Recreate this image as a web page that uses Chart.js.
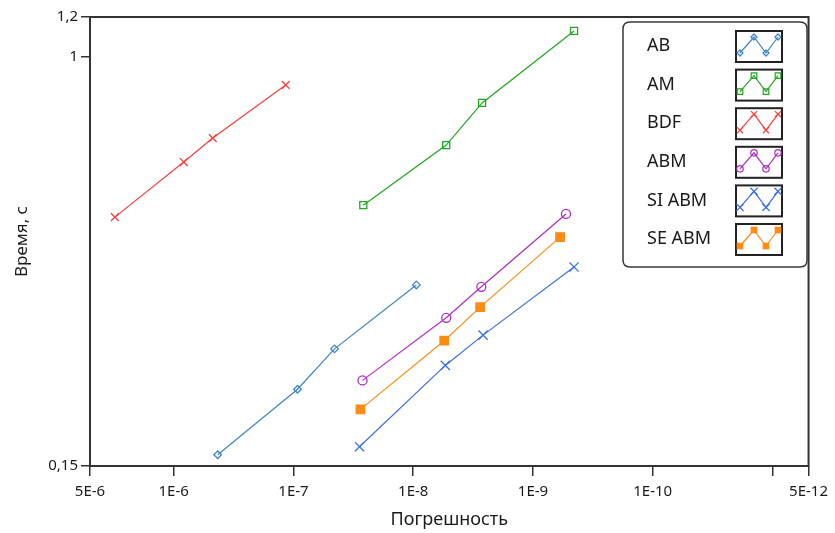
<!DOCTYPE html>
<html>
<head>
<meta charset="utf-8">
<script src="https://cdn.jsdelivr.net/npm/chart.js@4.4.1/dist/chart.umd.min.js"></script>
<style>
html,body{margin:0;padding:0;background:#fff;}
#wrap{width:835px;height:533px;position:relative;}
</style>
</head>
<body>
<div id="wrap"><canvas id="c" width="835" height="533"></canvas></div>
<script>
// ---- data ----
const seriesNames = ['AB', 'AM', 'BDF', 'ABM', 'SI ABM', 'SE ABM'];

const abX = [4.29e-7, 9.25e-8, 4.54e-8, 9.42e-9];
const abY = [0.158, 0.214, 0.258, 0.347];

const amX = [2.61e-8, 5.30e-9, 2.66e-9, 4.54e-10];
const amY = [0.502, 0.663, 0.806, 1.125];

const bdfX = [3.10e-6, 8.24e-7, 4.72e-7, 1.16e-7];
const bdfY = [0.475, 0.613, 0.685, 0.876];

const abmX = [2.65e-8, 5.30e-9, 2.70e-9, 5.30e-10];
const abmY = [0.223, 0.298, 0.344, 0.482];

const siAbmX = [2.81e-8, 5.40e-9, 2.61e-9, 4.54e-10];
const siAbmY = [0.164, 0.239, 0.275, 0.377];

const seAbmX = [2.76e-8, 5.51e-9, 2.76e-9, 5.94e-10];
const seAbmY = [0.195, 0.268, 0.313, 0.433];

const xTickValues = [5e-6, 1e-6, 1e-7, 1e-8, 1e-9, 1e-10, 1e-11, 5e-12];
const xTickLabels = ['5E-6', '1E-6', '1E-7', '1E-8', '1E-9', '1E-10', '', '5E-12'];
const yTickValues = [0.15, 1, 1.2];
const yTickLabels = ['0,15', '1', '1,2'];

const xTitle = 'Погрешность';
const yTitle = 'Время, с';

// ---- styles ----
const FONT = '"Noto Sans", "Open Sans", sans-serif';
const styles = [
  {color: '#3d85c6', marker: 'diamond', r: 3.8, fill: false},
  {color: '#1fa81f', marker: 'square', r: 5, fill: false},
  {color: '#ff3b3b', marker: 'cross', r: 5.5, fill: false},
  {color: '#b02cc0', marker: 'circle', r: 4.5, fill: false},
  {color: '#3b6fe6', marker: 'cross', r: 6.5, fill: false},
  {color: '#ff8a14', marker: 'square', r: 6, fill: true}
];
const xs = [abX, amX, bdfX, abmX, siAbmX, seAbmX];
const ysArr = [abY, amY, bdfY, abmY, siAbmY, seAbmY];

function pointStyleFor(s){
  if (s.marker === 'diamond') return 'rectRot';
  if (s.marker === 'square') return 'rect';
  if (s.marker === 'cross') return 'crossRot';
  return 'circle';
}

const datasets = seriesNames.map((name, i) => ({
  label: name,
  data: xs[i].map((x, k) => ({x: x, y: ysArr[i][k]})),
  borderColor: styles[i].color,
  backgroundColor: styles[i].fill ? styles[i].color : '#ffffff',
  borderWidth: 1.2,
  pointStyle: pointStyleFor(styles[i]),
  pointRadius: styles[i].r,
  pointBorderWidth: 1.3,
  pointBorderColor: styles[i].color,
  pointBackgroundColor: styles[i].fill ? styles[i].color : 'rgba(255,255,255,0)',
  showLine: true,
  tension: 0
}));

function drawMarker(ctx, s, x, y){
  ctx.save();
  ctx.strokeStyle = s.color;
  ctx.fillStyle = s.color;
  ctx.lineWidth = 1.2;
  const r = s.r * 0.8;
  ctx.beginPath();
  if (s.marker === 'diamond'){
    ctx.moveTo(x, y - r); ctx.lineTo(x + r, y); ctx.lineTo(x, y + r); ctx.lineTo(x - r, y); ctx.closePath();
    ctx.stroke();
  } else if (s.marker === 'square'){
    const h = r * 0.7;
    ctx.rect(x - h, y - h, 2*h, 2*h);
    if (s.fill) ctx.fill(); else ctx.stroke();
  } else if (s.marker === 'cross'){
    const h = r * 0.7;
    ctx.moveTo(x - h, y - h); ctx.lineTo(x + h, y + h);
    ctx.moveTo(x + h, y - h); ctx.lineTo(x - h, y + h);
    ctx.stroke();
  } else {
    ctx.arc(x, y, r*0.9, 0, Math.PI*2);
    ctx.stroke();
  }
  ctx.restore();
}

const framePlugin = {
  id: 'frame',
  afterDraw(chart){
    const a = chart.chartArea, ctx = chart.ctx;
    ctx.save();
    ctx.strokeStyle = '#333333';
    ctx.lineWidth = 2;
    ctx.strokeRect(a.left, a.top, a.right - a.left, a.bottom - a.top);
    // legend box
    const lx = 623, ly = 22, lw = 184, lh = 245, rad = 7;
    ctx.beginPath();
    ctx.moveTo(lx + rad, ly);
    ctx.lineTo(lx + lw - rad, ly); ctx.quadraticCurveTo(lx + lw, ly, lx + lw, ly + rad);
    ctx.lineTo(lx + lw, ly + lh - rad); ctx.quadraticCurveTo(lx + lw, ly + lh, lx + lw - rad, ly + lh);
    ctx.lineTo(lx + rad, ly + lh); ctx.quadraticCurveTo(lx, ly + lh, lx, ly + lh - rad);
    ctx.lineTo(lx, ly + rad); ctx.quadraticCurveTo(lx, ly, lx + rad, ly);
    ctx.closePath();
    ctx.fillStyle = '#ffffff';
    ctx.fill();
    ctx.strokeStyle = '#3a3a3a';
    ctx.lineWidth = 1.5;
    ctx.stroke();
    ctx.font = '18px ' + FONT;
    ctx.textBaseline = 'middle';
    ctx.textAlign = 'left';
    seriesNames.forEach((name, i) => {
      const cy = 46 + i * 38.6;
      ctx.fillStyle = '#1a1a1a';
      ctx.fillText(name, 647, cy);
      const bx = 736, by = cy - 15, bw = 46, bh = 31;
      ctx.strokeStyle = '#222';
      ctx.lineWidth = 2;
      ctx.strokeRect(bx, by, bw, bh);
      const s = styles[i];
      const pts = [[bx + 4, by + 22], [bx + 18, by + 6], [bx + 30, by + 22], [bx + 42, by + 6]];
      ctx.save();
      ctx.strokeStyle = s.color; ctx.lineWidth = 1.2;
      ctx.beginPath();
      pts.forEach((p, k) => k ? ctx.lineTo(p[0], p[1]) : ctx.moveTo(p[0], p[1]));
      ctx.stroke();
      ctx.restore();
      pts.forEach(p => drawMarker(ctx, s, p[0], p[1]));
    });
    ctx.restore();
  }
};

new Chart(document.getElementById('c'), {
  type: 'scatter',
  data: {datasets},
  options: {
    responsive: false,
    animation: false,
    events: [],
    layout: {padding: {left: 0, right: 25, top: 17, bottom: 0}},
    plugins: {legend: {display: false}, tooltip: {enabled: false}},
    scales: {
      x: {
        type: 'logarithmic',
        reverse: true,
        min: 5e-12,
        max: 5e-6,
        afterBuildTicks(scale){ scale.ticks = xTickValues.map(v => ({value: v})); },
        afterFit(scale){ scale.height = 67; },
        grid: {display: true, drawOnChartArea: false, drawTicks: true, tickLength: 10, color: '#333', lineWidth: 1.5},
        border: {display: false},
        ticks: {
          autoSkip: false, maxRotation: 0, minRotation: 0, padding: 7,
          color: '#1a1a1a', font: {family: FONT, size: 15},
          callback: (v, i) => xTickLabels[i]
        },
        title: {display: true, text: xTitle, color: '#1a1a1a', font: {family: FONT, size: 18}, padding: {top: 0, bottom: 2}}
      },
      y: {
        type: 'logarithmic',
        min: 0.15,
        max: 1.2,
        afterBuildTicks(scale){ scale.ticks = yTickValues.map(v => ({value: v})); },
        afterFit(scale){ scale.width = 90; },
        grid: {display: true, drawOnChartArea: false, drawTicks: true, tickLength: 9, color: '#333', lineWidth: 1.5},
        border: {display: false},
        ticks: {
          autoSkip: false, padding: 3,
          color: '#1a1a1a', font: {family: FONT, size: 15},
          callback: (v, i) => yTickLabels[i]
        },
        title: {display: true, text: yTitle, color: '#1a1a1a', font: {family: FONT, size: 17}, padding: {top: 12, bottom: 10}}
      }
    }
  },
  plugins: [framePlugin]
});
</script>
</body>
</html>
